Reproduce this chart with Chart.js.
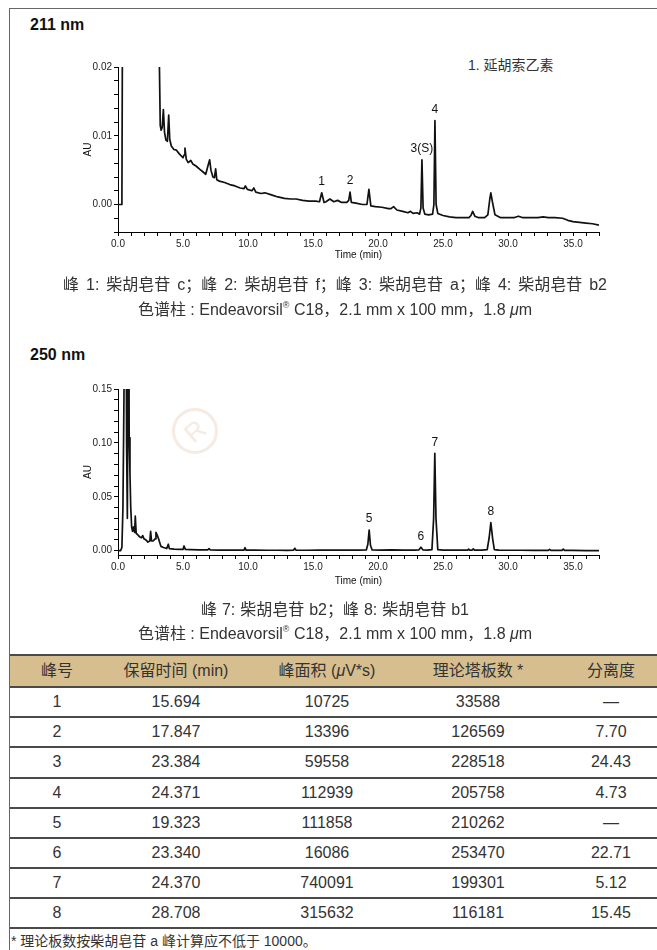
<!DOCTYPE html>
<html><head><meta charset="utf-8">
<script src="https://cdn.jsdelivr.net/npm/chart.js@4.4.0/dist/chart.umd.min.js"></script>
<style>
html,body{margin:0;padding:0;background:#fff;}
body{width:657px;height:950px;position:relative;overflow:hidden;font-family:"Liberation Sans","Noto Sans CJK SC",sans-serif;color:#222;-webkit-font-smoothing:antialiased;}
.frame{position:absolute;left:9px;top:8px;width:700px;height:1000px;border-left:1px solid #666;border-top:1px solid #666;}
.title{position:absolute;left:30px;font-weight:bold;font-size:16px;color:#111;line-height:20px;}
.cap{position:absolute;left:0;width:670px;text-align:center;font-size:16px;color:#333;white-space:nowrap;line-height:20px;will-change:transform;}
.cap sup{font-size:9px;vertical-align:7px;line-height:0;}
.legend{position:absolute;left:468px;top:56px;font-size:14px;color:#333;line-height:18px;}
.box{position:absolute;left:0;width:657px;}
#c1box{top:50px;height:220px;}
#c2box{top:375px;height:220px;}
.wm{position:absolute;left:172px;top:408px;width:40px;height:40px;border:3px solid #f5ebe3;border-radius:50%;color:#f5ebe3;font-size:26px;line-height:40px;text-align:center;transform:rotate(-40deg);}
.hdr{position:absolute;left:10px;width:647px;top:655px;height:31px;background:#d7be8e;}
.hline{position:absolute;left:10px;width:647px;height:2px;background:#4a4a4a;}
.cell{position:absolute;width:160px;text-align:center;font-size:16px;color:#333;white-space:nowrap;line-height:20px;}
.foot{position:absolute;left:11px;top:932px;font-size:14px;color:#333;white-space:nowrap;line-height:18px;}
</style></head>
<body>
<div class="frame"></div>
<div class="wm">R</div>
<div class="title" style="top:15px">211 nm</div>
<div class="legend">1. 延胡索乙素</div>
<div id="c1box" class="box"><canvas id="c1"></canvas></div>
<div class="cap" style="top:275px;word-spacing:2.5px">峰 1: 柴胡皂苷 c；峰 2: 柴胡皂苷 f；峰 3: 柴胡皂苷 a；峰 4: 柴胡皂苷 b2</div>
<div class="cap" style="top:300px">色谱柱 : Endeavorsil<sup>®</sup> C18，2.1 mm x 100 mm，1.8 <i>μ</i>m</div>
<div class="title" style="top:345px">250 nm</div>
<div id="c2box" class="box"><canvas id="c2"></canvas></div>
<div class="cap" style="top:600px;word-spacing:0.5px">峰 7: 柴胡皂苷 b2；峰 8: 柴胡皂苷 b1</div>
<div class="cap" style="top:624px">色谱柱 : Endeavorsil<sup>®</sup> C18，2.1 mm x 100 mm，1.8 <i>μ</i>m</div>
<div id="table"></div>
<div class="foot">* 理论板数按柴胡皂苷 a 峰计算应不低于 10000。</div>
<script>
// ---------- 211 nm chromatogram ----------
const time211 = [0,0.25,0.3,0.35,0.4,1.0,2.0,3.0,3.15,3.25,3.32,3.4,3.49,3.58,3.68,3.8,3.9,3.98,4.1,4.3,4.5,4.7,5.0,5.08,5.15,5.25,5.4,5.6,5.75,6.0,6.3,6.5,6.75,6.9,7.05,7.15,7.3,7.42,7.51,7.6,7.8,8.2,8.6,9.0,9.4,9.7,9.8,9.95,10.3,10.45,10.6,11.0,11.3,11.8,12.3,12.8,13.3,13.7,14.2,14.7,15.2,15.5,15.67,15.85,16.0,16.3,16.6,16.9,17.2,17.6,17.75,17.85,17.95,18.3,18.8,19.15,19.3,19.45,19.8,20.3,20.8,21.0,21.2,21.45,21.9,22.3,22.5,22.7,23.0,23.2,23.3,23.38,23.47,23.6,23.9,24.2,24.3,24.38,24.47,24.6,25.0,25.5,26.0,26.5,27.0,27.15,27.28,27.45,27.7,28.2,28.45,28.6,28.68,28.8,29.0,29.4,30.0,30.5,30.8,31.1,31.7,32.3,32.7,33.1,33.6,34.2,34.6,35.0,35.5,36.0,36.5,37.0];
const au211 = [0,0,0.0003,0.03,0.06,0.08,0.07,0.05,0.025,0.0115,0.0108,0.0112,0.0138,0.0105,0.0094,0.0092,0.0130,0.0095,0.0085,0.0080,0.0079,0.0074,0.0068,0.0072,0.0082,0.0066,0.0061,0.0064,0.0059,0.0056,0.0051,0.0048,0.0044,0.0055,0.0065,0.0050,0.0040,0.0039,0.0052,0.0036,0.0034,0.0032,0.0029,0.0027,0.0024,0.0023,0.0027,0.0022,0.0020,0.0024,0.0018,0.0016,0.0017,0.0014,0.0011,0.0009,0.0008,0.0008,0.0006,0.0005,0.0005,0.0004,0.0017,0.0003,0.0004,0.0008,0.0004,0.0006,0.0003,0.0003,0.0006,0.0018,0.0003,0.0002,0.0000,0.0000,0.0022,-0.0002,-0.0003,-0.0004,-0.0006,-0.0006,-0.0003,-0.0008,-0.0010,-0.0012,-0.0010,-0.0013,-0.0012,-0.0014,-0.0005,0.0065,-0.0005,-0.0014,-0.0015,-0.0014,0.0000,0.0122,0.0000,-0.0013,-0.0016,-0.0018,-0.0019,-0.0019,-0.0019,-0.0016,-0.0010,-0.0017,-0.0019,-0.0019,-0.0015,0.0008,0.0017,0.0004,-0.0015,-0.0019,-0.0019,-0.0019,-0.0017,-0.0019,-0.0019,-0.0019,-0.0018,-0.0019,-0.0019,-0.0020,-0.0023,-0.0025,-0.0026,-0.0027,-0.0028,-0.0030];
const peakNames211 = ['1','2','3(S)','4'];
const peakTimes211 = [15.67,17.85,23.38,24.38];
const peakTops211 = [0.0017,0.0018,0.0065,0.0122];

// ---------- 250 nm chromatogram ----------
const time250 = [0,0.2,0.3,0.38,0.45,0.55,0.62,0.66,0.72,0.78,0.82,0.86,0.92,0.98,1.05,1.12,1.2,1.28,1.33,1.4,1.5,1.65,1.8,1.9,2.0,2.15,2.3,2.45,2.51,2.58,2.7,2.85,2.92,3.0,3.15,3.3,3.5,3.75,3.87,3.95,4.3,4.8,5.0,5.08,5.18,5.6,6.2,6.9,7.0,7.1,7.8,8.6,9.3,9.7,9.77,9.85,10.5,11.5,12.3,13.0,13.5,13.6,13.7,14.5,15.5,16.5,17.5,18.5,19.1,19.22,19.32,19.42,19.55,20.2,21.0,22.0,22.8,23.15,23.3,23.45,23.8,24.15,24.28,24.37,24.46,24.6,25.0,26.0,26.9,26.97,27.05,27.25,27.33,27.42,28.0,28.4,28.55,28.68,28.82,28.95,29.3,30.0,31.0,32.0,33.1,33.2,33.3,34.15,34.25,34.35,35.0,36.0,37.0];
const au250 = [0,0,0.003,0.04,0.13,0.3,0.25,0.1,0.03,0.2,0.3,0.105,0.072,0.04,0.022,0.018,0.022,0.017,0.032,0.016,0.015,0.013,0.012,0.014,0.011,0.010,0.008,0.009,0.018,0.009,0.009,0.011,0.017,0.015,0.010,0.004,0.003,0.002,0.006,0.002,0.0015,0.0012,0.0012,0.0044,0.0012,0.001,0.0008,0.0008,0.0018,0.0008,0.0006,0.0005,0.0005,0.0006,0.0028,0.0006,0.0005,0.0004,0.0004,0.0003,0.0005,0.0022,0.0005,0.0004,0.0005,0.0006,0.0005,0.0006,0.0007,0.006,0.0192,0.005,0.0007,0.0006,0.0008,0.0005,0.0005,0.0008,0.0032,0.0008,0.0005,0.001,0.03,0.0903,0.03,0.001,0.0005,0.0005,0.0005,0.0015,0.0005,0.0006,0.0017,0.0006,0.0005,0.001,0.012,0.026,0.011,0.001,0.0005,0.0004,0.0004,0.0003,0.0003,0.0013,0.0003,0.0003,0.0015,0.0003,0.0002,0.0001,0.0];
const peakNames250 = ['5','6','7','8'];
const peakTimes250 = [19.32,23.3,24.37,28.68];
const peakTops250 = [0.0192,0.0032,0.0903,0.026];

// ---------- Table ----------
const tableHeader = ['峰号','保留时间 (min)','峰面积 (<i>μ</i>V*s)','理论塔板数 *','分离度'];
const peakNo = ['1','2','3','4','5','6','7','8'];
const retention = ['15.694','17.847','23.384','24.371','19.323','23.340','24.370','28.708'];
const peakArea = ['10725','13396','59558','112939','111858','16086','740091','315632'];
const plates = ['33588','126569','228518','205758','210262','253470','199301','116181'];
const resolution = ['—','7.70','24.43','4.73','—','22.71','5.12','15.45'];

Chart.defaults.font.family = "'Liberation Sans', Arial, sans-serif";
Chart.defaults.color = '#222';

const peakLabelPlugin = {
  id: 'peakLabels',
  afterDatasetsDraw(chart, args, opts) {
    const {ctx, scales} = chart;
    ctx.save();
    ctx.font = '12px "Liberation Sans", Arial, sans-serif';
    ctx.fillStyle = '#111';
    ctx.textAlign = 'center';
    ctx.textBaseline = 'middle';
    opts.names.forEach((n, i) => {
      const x = scales.x.getPixelForValue(opts.times[i]);
      const y = scales.y.getPixelForValue(opts.tops[i]);
      ctx.fillText(n, x, y - 11);
    });
    ctx.restore();
  }
};

function makeChart(id, times, values, yMin, yMax, yStep, yMajor, names, ptimes, ptops, pad, xH) {
  const pts = times.map((t, i) => ({x: t, y: values[i]}));
  return new Chart(document.getElementById(id), {
    type: 'line',
    data: {datasets: [{data: pts, borderColor: '#111', borderWidth: 1.7, pointRadius: 0, tension: 0, fill: false, borderJoinStyle: 'round'}]},
    plugins: [peakLabelPlugin],
    options: {
      responsive: true, maintainAspectRatio: false, animation: false,
      events: [],
      layout: {padding: pad},
      plugins: {legend: {display: false}, tooltip: {enabled: false}, peakLabels: {names, times: ptimes, tops: ptops}},
      scales: {
        x: {
          type: 'linear', min: 0, max: 37,
          border: {display: true, color: '#000', width: 1},
          grid: {display: true, drawOnChartArea: false, drawTicks: true, tickLength: 4, tickColor: '#000', tickWidth: 1},
          ticks: {stepSize: 1, autoSkip: false, maxRotation: 0, padding: 2, color: '#222', font: {size: 10},
            callback: v => (Math.abs(v / 5 - Math.round(v / 5)) < 1e-6 ? v.toFixed(1) : '')},
          title: {display: true, text: 'Time (min)', color: '#111', font: {size: 10}, padding: {top: 0, bottom: 4}},
          afterFit: s => { s.height = xH; }
        },
        y: {
          type: 'linear', min: yMin, max: yMax,
          border: {display: true, color: '#000', width: 1},
          grid: {display: true, drawOnChartArea: false, drawTicks: true, tickLength: 4, tickColor: '#000', tickWidth: 1},
          ticks: {stepSize: yStep, includeBounds: false, autoSkip: false, padding: 2, color: '#222', font: {size: 10},
            callback: v => (v >= -1e-9 && Math.abs(v / yMajor - Math.round(v / yMajor)) < 1e-6 ? v.toFixed(2) : '')},
          title: {display: true, text: 'AU', color: '#111', font: {size: 10}, padding: {top: 6, bottom: 0}},
          afterFit: s => { s.width = 42; }
        }
      }
    }
  });
}

makeChart('c1', time211, au211, -0.004, 0.02, 0.002, 0.01, peakNames211, peakTimes211, peakTops211,
  {left: 76, right: 58, top: 17, bottom: 5}, 33);
makeChart('c2', time250, au250, -0.004, 0.15, 0.01, 0.05, peakNames250, peakTimes250, peakTops250,
  {left: 76, right: 58, top: 14, bottom: 4}, 36);

// build table
const colCenters = [57, 176, 327, 478, 611];
const tbl = document.getElementById('table');
let html = '<div class="hdr"></div><div class="hline" style="top:654px"></div>';
tableHeader.forEach((h, c) => {
  html += `<div class="cell" style="left:${colCenters[c]-80}px;top:661px">${h}</div>`;
});
const cols = [peakNo, retention, peakArea, plates, resolution];
for (let r = 0; r < peakNo.length; r++) {
  const lineY = 686 + r * 30.15;
  html += `<div class="hline" style="top:${lineY.toFixed(1)}px"></div>`;
  cols.forEach((col, c) => {
    html += `<div class="cell" style="left:${colCenters[c]-80}px;top:${(lineY + 6).toFixed(1)}px">${col[r]}</div>`;
  });
}
html += `<div class="hline" style="top:${(686 + 8 * 30.15).toFixed(1)}px"></div>`;
tbl.innerHTML = html;
</script>
</body></html>
